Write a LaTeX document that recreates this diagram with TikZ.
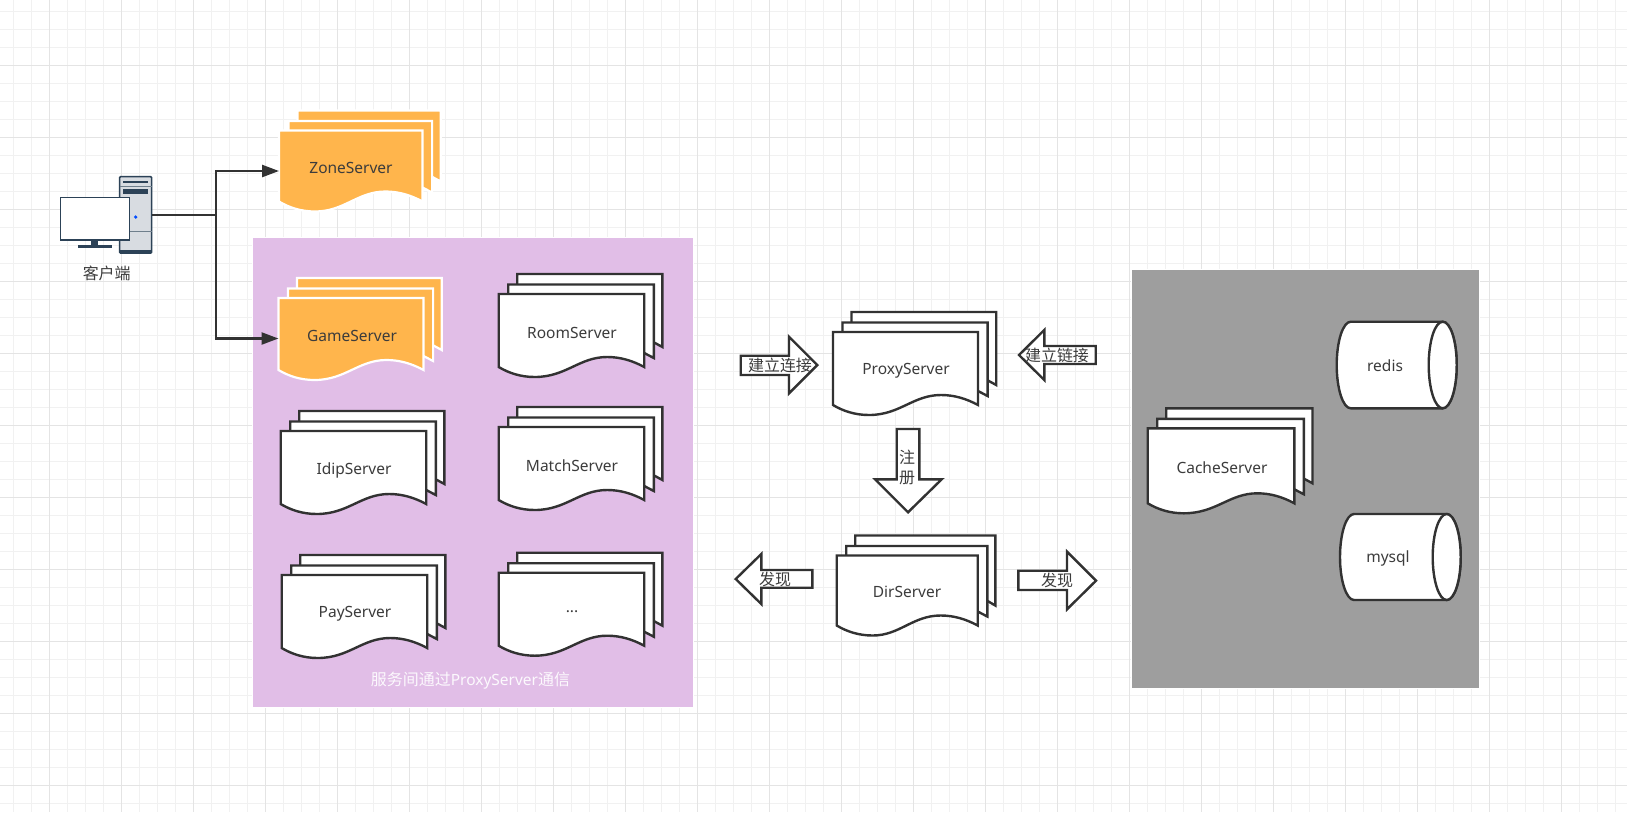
\documentclass[tikz,border=0pt]{standalone}
\usepackage{fontspec}
\setmainfont{Noto Sans}
\newfontfamily\cjk[Scale=1.03]{Noto Sans CJK SC}
\usetikzlibrary{arrows.meta}
\definecolor{ink}{HTML}{323232}
\definecolor{txt}{HTML}{3C3C3C}
\definecolor{gridminor}{HTML}{F1F1F1}
\definecolor{gridmajor}{HTML}{E4E4E4}
\definecolor{panelpurple}{HTML}{E1BEE7}
\definecolor{panelgrey}{HTML}{9E9E9E}
\definecolor{docorange}{HTML}{FFB54C}
\definecolor{pcdark}{HTML}{2C4257}
\definecolor{pcgrey}{HTML}{D8DCE1}
\definecolor{pcline}{HTML}{6F7F8C}
\tikzset{
  x=1pt,y=-1pt,
  plaindoc/.style={draw=ink,fill=white,line width=2.4pt,line join=miter},
  orangedoc/.style={draw=white,fill=docorange,line width=2.2pt,line join=miter},
  dbshape/.style={draw=ink,fill=white,line width=2.4pt},
  blockarrow/.style={draw=ink,fill=white,line width=2.4pt,line join=miter},
  conn/.style={draw=ink,line width=2.4pt,-{Triangle[length=17pt,width=12pt]},line join=miter},
  lbl/.style={inner sep=0pt,text=txt,font=\fontsize{15.5}{20}\selectfont,align=center},
  panel/.style={draw=white,line width=1pt},
}
\newcommand{\bdx}{18.2}
% style, name, left, top, width, height, text x, text y, text
\newcommand{\docstack}[9]{%
  \def\dL{#3}\def\dT{#4}\def\dW{#5}\def\dH{#6}%
  \draw[#1] ({\dL+18.5},{\dT-20}) -- ({\dL+\dW+\bdx},{\dT-20}) -- ({\dL+\dW+\bdx},{\dT+\dH-20})
     -- ({\dL+\dW+9},{\dT+\dH-25}) -- ({\dL+18.5},{\dT+\dH-25}) -- cycle;
  \draw[#1] ({\dL+9.5},{\dT-9.5}) -- ({\dL+\dW+9.6},{\dT-9.5}) -- ({\dL+\dW+9.6},{\dT+\dH-9})
     -- ({\dL+\dW},{\dT+\dH-14}) -- ({\dL+9.5},{\dT+\dH-14}) -- cycle;
  \draw[#1] (\dL,\dT) -- ({\dL+\dW},\dT) -- ({\dL+\dW},{\dT+\dH})
     .. controls ({\dL+\dW-12},{\dT+\dH-6.5}) and ({\dL+\dW-24},{\dT+\dH-10}) .. ({\dL+\dW-37},{\dT+\dH-10})
     .. controls ({\dL+\dW-65},{\dT+\dH-10}) and ({\dL+\dW-78},{\dT+\dH+10}) .. ({\dL+36},{\dT+\dH+10})
     .. controls ({\dL+22},{\dT+\dH+10}) and ({\dL+10},{\dT+\dH+6}) .. (\dL,{\dT+\dH}) -- cycle;
  \coordinate (#2-w) at (\dL,{\dT+40.5});
  \node[lbl] (#2) at (#7,#8) {#9};
}
% name, left, top, right, bottom, text x, text y, text
\newcommand{\dbcyl}[8]{%
  \draw[dbshape] ({#2+14},#3) -- ({#4-14},#3)
     .. controls ({#4-6.3},#3) and (#4,{#3+19.4}) .. (#4,{(#3+#5)/2})
     .. controls (#4,{#5-19.4}) and ({#4-6.3},#5) .. ({#4-14},#5)
     -- ({#2+14},#5)
     .. controls ({#2+6.3},#5) and (#2,{#5-19.4}) .. (#2,{(#3+#5)/2})
     .. controls (#2,{#3+19.4}) and ({#2+6.3},#3) .. ({#2+14},#3) -- cycle;
  \draw[dbshape] ({#4-14},{(#3+#5)/2}) circle[x radius=14,y radius={(#5-#3)/2}];
  \node[lbl] (#1) at (#6,#7) {#8};
}
\begin{document}
\begin{tikzpicture}
\useasboundingbox (0,0) rectangle (1627,812);
\fill[white] (0,0) rectangle (1627,812);
% grid
\foreach \g in {13.5,31.5,...,1627} \draw[gridminor,line width=1pt] (\g,0) -- (\g,812);
\foreach \g in {11.5,29.5,...,812} \draw[gridminor,line width=1pt] (0,\g) -- (1627,\g);
\foreach \g in {49.5,121.5,...,1627} \draw[gridmajor,line width=1pt] (\g,0) -- (\g,812);
\foreach \g in {65.5,137.5,...,812} \draw[gridmajor,line width=1pt] (0,\g) -- (1627,\g);
% panels
\fill[panelpurple,panel] (252.7,237.7) rectangle (693,707);
\fill[panelgrey,panel] (1131,269) rectangle (1479.3,688);
% client icon
\draw[pcdark,fill=pcgrey,line width=1.5pt,rounded corners=1pt] (119.5,176.7) rectangle (151.7,253);
\fill[pcdark] (119.5,250) rectangle (151.7,253.3);
\draw[pcline,line width=1pt] (119.5,186.7) -- (151.7,186.7);
\draw[pcline,line width=1pt] (119.5,231) -- (151.7,231);
\fill[pcdark] (123,181) rectangle (148,183);
\fill[pcdark] (123,189) rectangle (148,193.7);
\fill[blue!70!cyan] (135.7,217) circle[radius=1.8];
\fill[pcdark] (91.3,240) rectangle (98.3,245);
\fill[pcdark] (78.3,245) rectangle (111.7,247.5);
\draw[pcdark,fill=white,line width=1.2pt] (60.7,197.3) rectangle (129.3,240);
\node[lbl] (client) at (106.7,273) {\cjk 客户端};
\coordinate (pcout) at (152,215);
% documents
\docstack{orangedoc}{zone}{279}{130.5}{143.5}{71}{351}{168}{ZoneServer}
\docstack{orangedoc}{game}{278.5}{298}{145}{72}{352}{336}{GameServer}
\docstack{plaindoc}{room}{498.7}{294}{145.5}{73}{572}{333}{RoomServer}
\docstack{plaindoc}{match}{498.7}{427}{145.5}{73}{572}{466}{MatchServer}
\docstack{plaindoc}{idip}{280.7}{431}{145.5}{73}{354}{470.5}{IdipServer}
\docstack{plaindoc}{pay}{281.7}{575}{145.5}{73}{355}{613.5}{PayServer}
\docstack{plaindoc}{more}{498.7}{572.7}{145.5}{73}{572}{612}{...}
\docstack{plaindoc}{proxy}{833}{332}{145}{73}{906}{371}{ProxyServer}
\renewcommand{\bdx}{17.6}
\docstack{plaindoc}{dir}{836.7}{555.5}{141}{70}{907}{591.5}{DirServer}
\renewcommand{\bdx}{18.2}
\docstack{plaindoc}{cache}{1147.7}{428.3}{146.6}{75}{1222}{468}{CacheServer}
% databases
\dbcyl{redis}{1336.7}{321.7}{1456.7}{408.3}{1385}{366}{redis}
\dbcyl{mysql}{1340}{514}{1460.7}{600}{1388}{558.5}{mysql}
\node[lbl,text=white!90!panelpurple] (note) at (470.5,680.5) {\cjk 服务间通过{\rmfamily ProxyServer}通信};
% connectors
\draw[conn] (pcout) -- ++(63.7,0) |- (zone-w);
\draw[conn] (pcout) -- ++(63.7,0) |- (game-w);
% block arrows
\draw[blockarrow] (740.7,355.7) -- (789,355.7) -- (789,336.7) -- (817.3,365) -- (789,393.3) -- (789,375) -- (740.7,375) -- cycle;
\draw[blockarrow] (1095.7,346) -- (1044.3,346) -- (1044.3,330) -- (1019,355) -- (1044.3,380) -- (1044.3,364) -- (1095.7,364) -- cycle;
\draw[blockarrow] (896.7,429) -- (919.3,429) -- (919.3,479.3) -- (941.7,479.3) -- (908,512.3) -- (875,479.3) -- (896.7,479.3) -- cycle;
\draw[blockarrow] (812.3,570) -- (761.3,570) -- (761.3,554) -- (735.7,579) -- (761.3,604) -- (761.3,587.7) -- (812.3,587.7) -- cycle;
\draw[blockarrow] (1018.3,570.7) -- (1067,570.7) -- (1067,551.7) -- (1096,580.7) -- (1067,609.3) -- (1067,590) -- (1018.3,590) -- cycle;
\node[lbl] (connA) at (780,365) {\cjk 建立连接};
\node[lbl] (connB) at (1057,355) {\cjk 建立链接};
\node[lbl] (reg) at (907,467) {\cjk 注\\\cjk 册};
\node[lbl] (findA) at (775,579.3) {\cjk 发现};
\node[lbl] (findB) at (1057,580.7) {\cjk 发现};
\end{tikzpicture}
\end{document}
